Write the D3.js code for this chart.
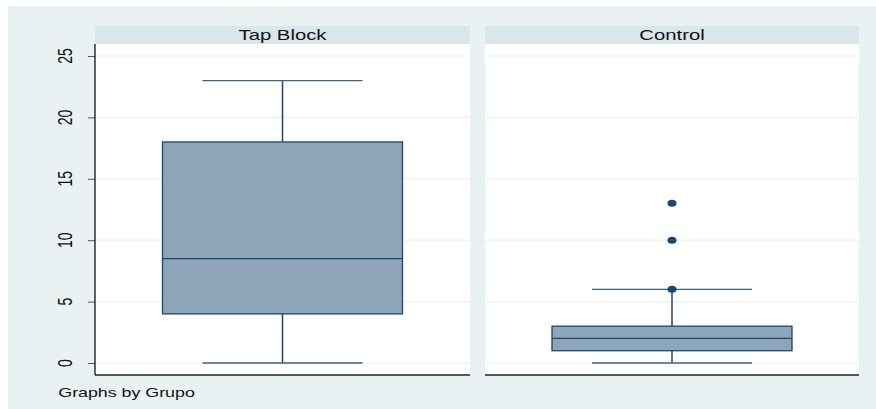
<!DOCTYPE html>
<html><head><meta charset="utf-8">
<script src="https://cdn.jsdelivr.net/npm/d3@7"></script>
<style>body{margin:0;background:#fff}svg{display:block}text{font-family:"Liberation Sans",Arial,sans-serif}</style>
</head><body>
<svg id="c" width="876" height="409"></svg>
<script>
const groups = ["Tap Block", "Control"];
const lowerWhisker = [0, 0];
const q1 = [4, 1];
const median = [8.5, 2];
const q3 = [18, 3];
const upperWhisker = [23, 6];
const outliers = [[], [6, 10, 13]];
const yTicks = [0, 5, 10, 15, 20, 25];
const note = "Graphs by Grupo";

const svg = d3.select("#c");
const W = 876, H = 409;
const SX = 1.45; // horizontal stretch of text seen in reference
svg.append("rect").attr("x", 8).attr("y", 6).attr("width", W - 8).attr("height", H - 6).attr("fill", "#eaf1f3");

const panels = [{x0: 95, x1: 470}, {x0: 485, x1: 859}];
const plotTop = 44, plotBottom = 375, stripTop = 26;
const y = d3.scaleLinear().domain([0, 25]).range([363, 56]);
const navy = "#1a476f";

groups.forEach((g, i) => {
  const p = panels[i];
  const x = d3.scaleBand().domain([g]).range([p.x0, p.x1]);
  const cx = x(g) + x.bandwidth() / 2;
  const boxW = 240, capW = 160;
  // strip
  svg.append("rect").attr("x", p.x0).attr("y", stripTop).attr("width", p.x1 - p.x0).attr("height", plotTop - stripTop).attr("fill", "#d9e6eb");
  svg.append("text").attr("transform", `translate(${(p.x0 + p.x1) / 2},39.5) scale(${SX},1)`)
    .attr("text-anchor", "middle").attr("font-size", 14).attr("fill", "#111").text(g);
  // plot area
  svg.append("rect").attr("x", p.x0).attr("y", plotTop).attr("width", p.x1 - p.x0).attr("height", plotBottom - plotTop).attr("fill", "#fff");
  // grid
  svg.append("g").selectAll("line").data(yTicks).join("line")
    .attr("x1", p.x0).attr("x2", p.x1).attr("y1", d => y(d)).attr("y2", d => y(d))
    .attr("stroke", "#eaf1f1").attr("stroke-width", 1.2);
  // whiskers
  svg.append("line").attr("x1", cx).attr("x2", cx).attr("y1", y(upperWhisker[i])).attr("y2", y(q3[i])).attr("stroke", navy).attr("stroke-width", 1.5);
  svg.append("line").attr("x1", cx).attr("x2", cx).attr("y1", y(q1[i])).attr("y2", y(lowerWhisker[i])).attr("stroke", navy).attr("stroke-width", 1.5);
  [upperWhisker[i], lowerWhisker[i]].forEach(v => {
    svg.append("line").attr("x1", cx - capW / 2).attr("x2", cx + capW / 2).attr("y1", y(v)).attr("y2", y(v)).attr("stroke", "#3d6285").attr("stroke-width", 1.3);
  });
  // box
  svg.append("rect").attr("x", cx - boxW / 2).attr("y", y(q3[i])).attr("width", boxW).attr("height", y(q1[i]) - y(q3[i]))
    .attr("fill", "#8ea4b8").attr("stroke", navy).attr("stroke-width", 1.3);
  svg.append("line").attr("x1", cx - boxW / 2).attr("x2", cx + boxW / 2).attr("y1", y(median[i])).attr("y2", y(median[i])).attr("stroke", navy).attr("stroke-width", 1.3);
  // outliers
  svg.append("g").selectAll("ellipse").data(outliers[i]).join("ellipse")
    .attr("cx", cx).attr("cy", d => y(d)).attr("rx", 4.5).attr("ry", 3.5).attr("fill", navy);
  // bottom axis line
  svg.append("line").attr("x1", p.x0).attr("x2", p.x1).attr("y1", plotBottom).attr("y2", plotBottom).attr("stroke", "#222").attr("stroke-width", 1.3);
});

// y axis
const ax = svg.append("g").attr("transform", "translate(95,0)").call(d3.axisLeft(y).tickValues(yTicks).tickSize(7).tickPadding(0).tickFormat(d3.format("d")));
ax.select(".domain").remove();
ax.selectAll(".tick line").attr("stroke", "#555");
ax.selectAll(".tick text").remove();
svg.append("g").selectAll("text").data(yTicks).join("text")
  .attr("transform", d => `translate(72,${y(d)}) scale(${SX},1) rotate(-90)`)
  .attr("text-anchor", "middle").attr("font-size", 14).attr("fill", "#111").text(d => d);
svg.append("line").attr("x1", 95).attr("x2", 95).attr("y1", plotTop).attr("y2", plotBottom).attr("stroke", "#111").attr("stroke-width", 1.3);

svg.append("text").attr("transform", `translate(58.3,397.3) scale(1.37,1)`).attr("font-size", 13).attr("fill", "#111").text(note);
</script>
</body></html>
